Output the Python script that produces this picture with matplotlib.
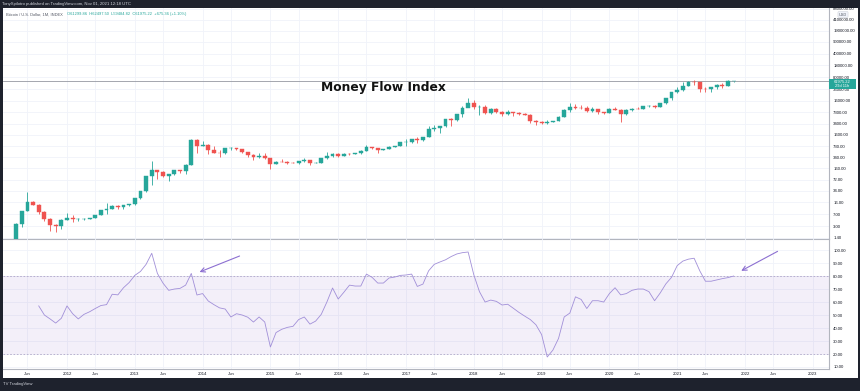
import numpy as np
import matplotlib
matplotlib.use("Agg")
import matplotlib.pyplot as plt
from matplotlib.patches import Rectangle

plt.rcParams['font.family'] = ['Liberation Sans', 'DejaVu Sans']

# monthly candles, Apr 2011 .. Nov 2021 (month index 0 = Jan 2011)
first_month = 3
opens = [0.79, 3.5, 8.7, 16.1, 13.35, 8.2, 5.1, 3.25, 3.0,
         4.7, 5.5, 4.9, 4.9, 5.0, 5.2, 6.7, 9.3, 10.2, 12.4, 11.2, 12.6,
         13.5, 20.4, 33.4, 93, 139, 128, 97, 106, 140, 133, 205, 1129,
         754, 800, 565, 458, 446, 628, 640, 585, 478, 387, 338, 378,
         320, 218, 254, 244, 236, 230, 263, 284, 230, 236, 314, 377,
         430, 368, 437, 416, 448, 531, 673, 624, 573, 608, 698, 746,
         964, 965, 1190, 1080, 1350, 2300, 2480, 2870, 4730, 4340, 6450, 10000,
         14100, 10200, 10300, 6900, 9240, 7500, 6400, 7730, 7030, 6630, 6300, 4000,
         3700, 3450, 3830, 4100, 5300, 8600, 10800, 10080, 9600, 8300, 9150, 7550,
         7200, 9350, 8550, 6430, 8630, 9450, 9140, 11350, 11650, 10780, 13800, 19700,
         28990, 33100, 45200, 58800, 57700, 37300, 35000, 41500, 47100, 43800, 61300]
highs = [3.9, 8.9, 31.9, 17.5, 13.5, 8.9, 5.2, 3.6, 4.9,
         7.4, 6.7, 5.4, 5.3, 5.2, 6.75, 9.5, 15.4, 12.6, 12.9, 12.8, 13.8,
         20.9, 33.4, 94, 266, 140, 129, 110, 140, 145, 210, 1163, 1163,
         1000, 850, 720, 550, 630, 680, 650, 600, 500, 420, 460, 455,
         320, 265, 300, 262, 247, 268, 316, 285, 245, 334, 503, 465,
         462, 446, 440, 467, 548, 780, 704, 626, 616, 740, 754, 980,
         1150, 1200, 1350, 1350, 2790, 3000, 2950, 4750, 4980, 6470, 11400, 19800,
         17200, 11800, 11700, 9750, 9960, 7770, 8500, 7750, 7400, 7000, 6600, 4400,
         4100, 4200, 4150, 5600, 9000, 13880, 13200, 12300, 10950, 10500, 9500, 7750,
         9600, 10500, 9200, 9460, 10080, 10380, 11450, 12480, 12080, 14100, 19900, 29300,
         41950, 58350, 61800, 64900, 59600, 41300, 42400, 50500, 52900, 67000, 62500]
lows = [0.56, 2.9, 8.5, 12.6, 7.0, 4.4, 2.2, 2.0, 2.6,
        4.6, 4.2, 4.4, 4.7, 4.9, 5.2, 6.5, 7.1, 9.9, 9.9, 10.2, 12.2,
        12.9, 19.1, 32.3, 50, 79, 89, 65, 98, 115, 106, 196, 450,
        725, 420, 440, 340, 430, 550, 565, 440, 350, 275, 325, 310,
        152, 212, 240, 214, 225, 218, 253, 198, 225, 235, 309, 350,
        354, 366, 394, 412, 436, 517, 605, 470, 570, 604, 685, 745,
        750, 910, 890, 1060, 1350, 2100, 1830, 2690, 2970, 4100, 5400, 10400,
        9400, 6000, 6600, 6450, 7050, 5750, 6100, 5880, 6100, 6200, 3500, 3150,
        3400, 3400, 3700, 4050, 5300, 7500, 9100, 9400, 7700, 7300, 6500, 6430,
        6850, 8450, 3850, 6150, 8100, 8900, 8950, 10550, 9850, 10400, 13200, 17600,
        28200, 32300, 45000, 47000, 30000, 28800, 29300, 37300, 39600, 43300, 59500]
closes = [3.5, 8.7, 16.1, 13.35, 8.2, 5.1, 3.25, 3.0, 4.7,
          5.5, 4.9, 4.9, 5.0, 5.2, 6.7, 9.3, 10.2, 12.4, 11.2, 12.6, 13.5,
          20.4, 33.4, 93, 139, 128, 97, 106, 140, 133, 205, 1129, 754,
          800, 565, 458, 446, 628, 640, 585, 478, 387, 338, 378, 320,
          218, 254, 244, 236, 230, 263, 284, 230, 236, 314, 377, 430,
          368, 437, 416, 448, 531, 673, 624, 573, 608, 698, 746, 964,
          965, 1190, 1080, 1350, 2300, 2480, 2870, 4730, 4340, 6450, 10000, 14100,
          10200, 10300, 6900, 9240, 7500, 6400, 7730, 7030, 6630, 6300, 4000, 3700,
          3450, 3830, 4100, 5300, 8600, 10800, 10080, 9600, 8300, 9150, 7550, 7200,
          9350, 8550, 6430, 8630, 9450, 9140, 11350, 11650, 10780, 13800, 19700, 28990,
          33100, 45200, 58800, 57700, 37300, 35000, 41500, 47100, 43800, 61300, 61975.22]

# money flow index, Aug 2011 .. Nov 2021
mfi_first_month = 7
mfi = [57, 50, 47, 43.8, 47.5, 57, 51, 47, 50.5, 52.5,
       55, 57.3, 58, 66, 65.5, 71, 75, 80.5, 83.5, 89,
       97.5, 82, 74.5, 69, 70, 70.5, 73, 82, 65.4, 66.5,
       60.8, 58, 55.5, 54.6, 48.5, 51, 50, 48.3, 44.6, 48.5,
       44.6, 25.4, 36.5, 39, 40.5, 41.3, 46.5, 48.5, 43, 45.3,
       50.5, 60, 70.8, 62.3, 67.5, 73, 72.3, 72.3, 81.5, 79,
       74.6, 74.6, 78.5, 79.2, 80.5, 80.8, 81.5, 72, 73.8, 84,
       89, 90.8, 92.5, 95, 97, 98, 98.5, 81, 68, 60,
       61.5, 60.5, 57.7, 58.3, 55.2, 52, 49.2, 46.5, 42.5, 35,
       17.7, 23, 32, 48.5, 51.5, 64, 62, 55, 61, 61,
       60, 66.5, 71, 65.5, 66.5, 69, 70, 70, 68, 61,
       67, 74, 79, 88, 91.5, 93, 93.7, 84, 76, 76,
       77, 78, 78.8, 80]

price_ticks = [1.4, 3, 7, 16, 34, 72, 160, 340, 730, 1600, 3400, 7300, 16000,
               36000, 80000, 180000, 400000, 900000, 1900000, 4100000, 8800000]
mfi_ticks = [10, 20, 30, 40, 50, 60, 70, 80, 90, 100]
x_tick_labels = ['Jun', '2012', 'Jun', '2013', 'Jun', '2014', 'Jun', '2015', 'Jun',
                 '2016', 'Jun', '2017', 'Jun', '2018', 'Jun', '2019', 'Jun', '2020',
                 'Jun', '2021', 'Jun', '2022', 'Jun', '2023']
x_tick_pos = [5 + 7 * ((i + 1) // 2) + 5 * (i // 2) for i in range(len(x_tick_labels))]

up_col = '#26a69a'
dn_col = '#ef5350'
mfi_col = '#a18fd8'
grid_col = '#f0f3fa'
text_col = '#131722'
axis_col = '#b2b5be'

W, H = 860, 391
def fx(px):
    return px / W
def fy(py):
    return 1 - py / H

fig = plt.figure(figsize=(8.6, 3.91), dpi=100)
fig.patch.set_facecolor('#1e222d')
fig.add_artist(Rectangle((fx(3), fy(378)), fx(855), (378 - 8) / H,
                         transform=fig.transFigure, facecolor='white',
                         edgecolor='none', zorder=0))

ax1 = fig.add_axes([fx(3), fy(239), fx(826), (239 - 8) / H])
ax2 = fig.add_axes([fx(3), fy(369), fx(826), (369 - 239) / H])

# ---- candles
o = np.array(opens); h = np.array(highs); l = np.array(lows); c = np.array(closes)
xs = np.arange(len(o)) + first_month
cols = np.where(c >= o, up_col, dn_col)
ax1.vlines(xs, l, h, colors=cols, lw=0.6, zorder=3)
body_lo = np.minimum(o, c)
body_hi = np.maximum(o, c)
body_hi = np.maximum(body_hi, body_lo * 1.02)
ax1.bar(xs, body_hi - body_lo, bottom=body_lo, width=0.68, color=cols,
        edgecolor=cols, lw=0.3, zorder=4)
ax1.set_yscale('log')
ax1.set_ylim(1.277, 9.14e6)
ax1.axhline(c[-1], color='#9598a1', lw=0.6, zorder=2)

# ---- MFI
mx = np.arange(len(mfi)) + mfi_first_month
ax2.axhspan(20, 80, color='#7e57c2', alpha=0.09, lw=0, zorder=1)
ax2.axhline(80, color='#b0a6c8', lw=0.6, ls=(0, (2, 2)), zorder=2)
ax2.axhline(20, color='#b0a6c8', lw=0.6, ls=(0, (2, 2)), zorder=2)
ax2.plot(mx, mfi, color=mfi_col, lw=0.6, zorder=3)
ax2.set_ylim(8.46, 108.5)
ax2.annotate('', xy=(35.0, 82.3), xytext=(43.0, 96.2),
             arrowprops=dict(arrowstyle='->', color='#8c6fd1', lw=0.8,
                             mutation_scale=8))
ax2.annotate('', xy=(130.9, 83), xytext=(138.2, 100),
             arrowprops=dict(arrowstyle='->', color='#8c6fd1', lw=0.8,
                             mutation_scale=8))

for ax in (ax1, ax2):
    ax.set_facecolor('none')
    ax.set_xlim(0.673, 146.87)
    ax.set_xticks(x_tick_pos)
    ax.yaxis.tick_right()
    ax.tick_params(length=0, labelsize=3.1, colors=text_col, pad=3)
    ax.grid(True, color=grid_col, lw=0.6, zorder=0)
    ax.set_axisbelow(True)
    for s in ('left', 'top'):
        ax.spines[s].set_visible(False)
    ax.spines['right'].set_color(axis_col)
    ax.spines['right'].set_linewidth(0.8)
    ax.spines['bottom'].set_color(axis_col)
    ax.spines['bottom'].set_linewidth(0.8)

ax1.set_yticks(price_ticks)
ax1.set_yticklabels(['%.2f' % v for v in price_ticks])
ax1.yaxis.set_minor_locator(matplotlib.ticker.NullLocator())
ax1.tick_params(axis='x', labelbottom=False)
ax2.set_yticks(mfi_ticks)
ax2.set_yticklabels(['%.2f' % v for v in mfi_ticks])
ax2.set_xticklabels(x_tick_labels)
ax2.tick_params(axis='x', pad=2.5)

# ---- texts
fig.text(fx(2), fy(4), 'TonySpilotro published on TradingView.com, Nov 01, 2021 12:18 UTC',
         color='#d1d4dc', fontsize=3.1, va='center')
fig.text(fx(6), fy(14.5), 'Bitcoin / U.S. Dollar, 1M, INDEX', color='#555a66',
         fontsize=2.9, va='center')
fig.text(fx(67), fy(14.5), 'O61299.86  H62497.50  L59484.82  C61975.22  +675.36 (+1.10%)',
         color=up_col, fontsize=2.9, va='center')
fig.text(fx(383), fy(88), 'Money Flow Index', color='#111111', fontsize=8.8,
         fontweight='bold', ha='center', va='center', family='DejaVu Sans')
fig.text(fx(3), fy(384.5), 'TV TradingView', color='#d1d4dc', fontsize=3.1,
         va='center')

# last price box
fig.add_artist(Rectangle((fx(829), fy(89)), fx(27), 10 / H, transform=fig.transFigure,
                         facecolor=up_col, edgecolor='none', zorder=5))
fig.text(fx(842.5), fy(84), '%.2f\n29d 11h' % c[-1], color='white', fontsize=2.9,
         ha='center', va='center', linespacing=1.1, zorder=6)
fig.text(fx(843), fy(14.5), 'USD', color='#555a66', fontsize=2.8, ha='center',
         va='center', bbox=dict(boxstyle='round,pad=0.25', fc='#f0f3fa', ec='#d1d4dc', lw=0.4))

fig.savefig('out.png', dpi=100, facecolor=fig.get_facecolor())
